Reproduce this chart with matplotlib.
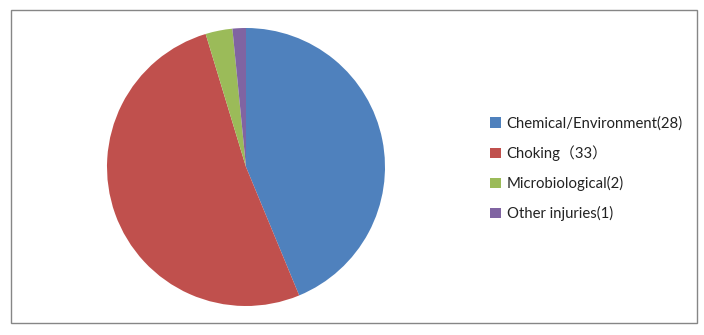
import matplotlib.pyplot as plt
from matplotlib.patches import Rectangle

labels = ['Chemical/Environment(28)', 'Choking（33）', 'Microbiological(2)', 'Other injuries(1)']
values = [28, 33, 2, 1]
colors = ['#4F81BD', '#C0504D', '#9BBB59', '#8064A2']

W, H = 704, 335
fig = plt.figure(figsize=(W / 100, H / 100), dpi=100)

# outer chart border
fig.patches.append(Rectangle((11 / W, 1 - 323 / H), 686 / W, 313 / H,
                             transform=fig.transFigure, fill=False,
                             edgecolor='#868686', linewidth=1))

cx, cy, r = 246, 167, 139
ax = fig.add_axes([(cx - r) / W, 1 - (cy + r) / H, 2 * r / W, 2 * r / H])
wedges, _ = ax.pie(values, colors=colors, startangle=90, counterclock=False,
                   wedgeprops=dict(linewidth=0))
ax.set_aspect('equal')
ax.set_xlim(-1, 1)
ax.set_ylim(-1, 1)

leg = fig.legend(wedges, labels, loc='upper left',
                 bbox_to_anchor=(477 / W, 1 - 103 / H),
                 frameon=False, handlelength=0.7, handleheight=0.7,
                 handletextpad=0.4, labelspacing=1.0,
                 prop=dict(family=['Lato', 'Noto Sans CJK SC'], size=10.7))
for t in leg.get_texts():
    t.set_color('#222222')

fig.savefig('out.png', dpi=100)
